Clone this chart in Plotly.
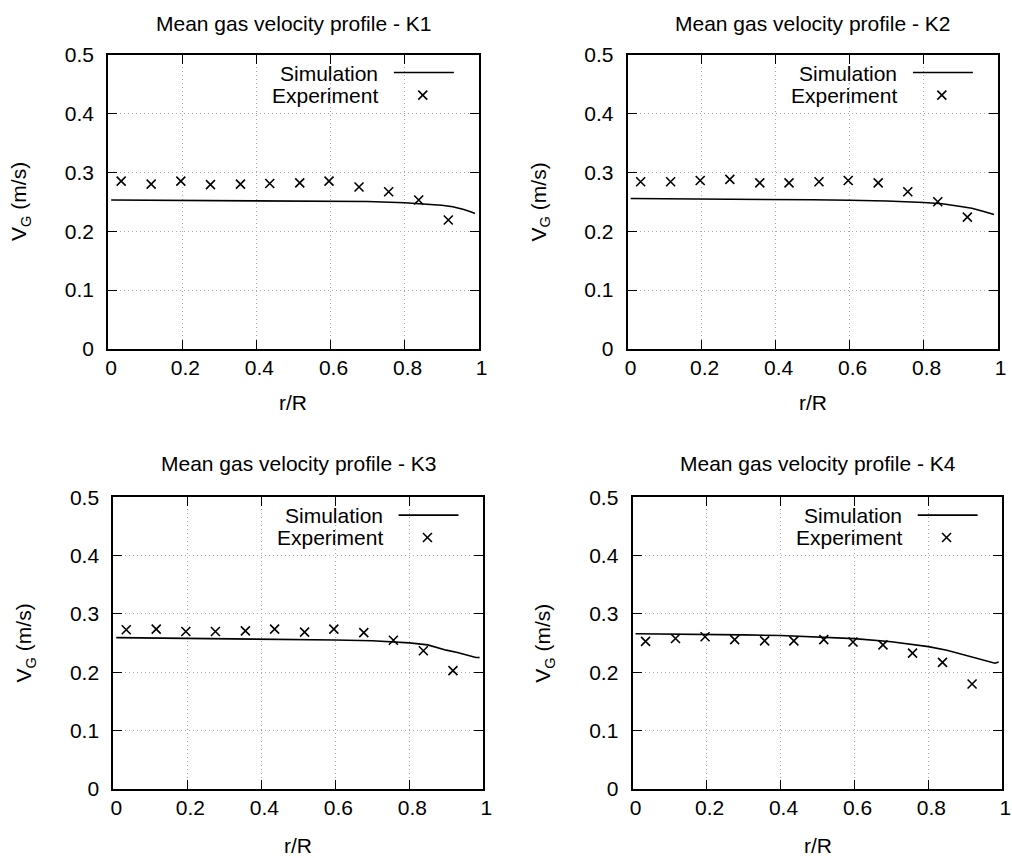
import plotly.graph_objects as go

# ---------------- data ----------------
r_exp = [0.035, 0.116, 0.196, 0.276, 0.357, 0.436, 0.517, 0.596, 0.677, 0.757, 0.838, 0.918]
v_exp_K1 = [0.285, 0.280, 0.285, 0.279, 0.280, 0.281, 0.282, 0.285, 0.275, 0.267, 0.253, 0.219]
v_exp_K2 = [0.284, 0.284, 0.286, 0.288, 0.282, 0.282, 0.284, 0.286, 0.282, 0.267, 0.250, 0.224]
v_exp_K3 = [0.273, 0.274, 0.270, 0.270, 0.271, 0.274, 0.269, 0.274, 0.268, 0.255, 0.237, 0.203]
v_exp_K4 = [0.253, 0.258, 0.261, 0.256, 0.254, 0.254, 0.256, 0.252, 0.247, 0.233, 0.217, 0.180]

r_sim = [0.008, 0.1, 0.2, 0.3, 0.4, 0.5, 0.6, 0.7, 0.8, 0.85, 0.9, 0.93, 0.96, 0.98, 0.99]
v_sim_K1 = [0.2530, 0.2528, 0.2526, 0.2524, 0.2521, 0.2518, 0.2512, 0.2503, 0.2483, 0.2465, 0.2440, 0.2415, 0.2370, 0.2325, 0.2300]
v_sim_K2 = [0.2555, 0.2553, 0.2550, 0.2545, 0.2540, 0.2533, 0.2525, 0.2514, 0.2488, 0.2465, 0.2420, 0.2390, 0.2340, 0.2300, 0.2285]
v_sim_K3 = [0.2595, 0.2590, 0.2585, 0.2580, 0.2573, 0.2565, 0.2555, 0.2540, 0.2505, 0.2470, 0.2380, 0.2340, 0.2290, 0.2255, 0.2255]
v_sim_K4 = [0.2660, 0.2657, 0.2653, 0.2642, 0.2630, 0.2608, 0.2578, 0.2524, 0.2440, 0.2378, 0.2295, 0.2245, 0.2185, 0.2155, 0.2175]

titles = ["Mean gas velocity profile - K1", "Mean gas velocity profile - K2",
          "Mean gas velocity profile - K3", "Mean gas velocity profile - K4"]
x_ticks = [0, 0.2, 0.4, 0.6, 0.8, 1]
x_tick_labels = ["0", "0.2", "0.4", "0.6", "0.8", "1"]
y_ticks = [0, 0.1, 0.2, 0.3, 0.4, 0.5]
y_tick_labels = ["0", "0.1", "0.2", "0.3", "0.4", "0.5"]

sims = [v_sim_K1, v_sim_K2, v_sim_K3, v_sim_K4]
exps = [v_exp_K1, v_exp_K2, v_exp_K3, v_exp_K4]

# ---------------- layout geometry (pixels) ----------------
W, H = 1012, 858
boxes = [  # (left, right, top, bottom) in pixels
    (108.2, 478.7, 54.5, 349.0),
    (627.7, 997.7, 54.5, 349.0),
    (113.3, 483.3, 497.3, 789.0),
    (632.6, 1002.4, 497.3, 789.0),
]
title_y = [23, 23, 463, 463]
xtitle_y = [402, 402, 845, 845]

FONT = "Liberation Sans, Arial, sans-serif"
FS = 21

fig = go.Figure()
annotations = []
shapes = []

for i in range(4):
    ax = "" if i == 0 else str(i + 1)
    xa, ya = "x" + ax, "y" + ax
    l, r, t, b = boxes[i]
    fig.add_trace(go.Scatter(x=r_sim, y=sims[i], mode="lines",
                             line=dict(color="black", width=1.6),
                             xaxis=xa, yaxis=ya, showlegend=False, cliponaxis=False))
    fig.add_trace(go.Scatter(x=r_exp, y=exps[i], mode="markers",
                             marker=dict(symbol="x-thin", size=9, color="black",
                                         line=dict(color="black", width=1.6)),
                             xaxis=xa, yaxis=ya, showlegend=False))
    common = dict(showline=True, linecolor="black", linewidth=2, mirror="allticks",
                  ticks="inside", ticklen=9, tickwidth=1, tickcolor="black",
                  showgrid=True, gridcolor="#a8a8a8", griddash="1px,3px", gridwidth=1,
                  zeroline=False, tickfont=dict(family=FONT, size=FS, color="black"))
    fig.update_layout(**{
        "xaxis" + ax: dict(domain=[l / W, r / W], range=[0, 1], anchor=ya,
                           tickvals=x_ticks, ticktext=x_tick_labels,
                           ticklabelstandoff=-1, ticklabelshift=3, **common),
        "yaxis" + ax: dict(domain=[1 - b / H, 1 - t / H], range=[0, 0.5], anchor=xa,
                           tickvals=y_ticks, ticktext=y_tick_labels,
                           ticklabelstandoff=8, **common),
    })
    cx = (l + r) / 2
    annotations.append(dict(text=titles[i], x=cx / W, y=1 - title_y[i] / H,
                            xref="paper", yref="paper", showarrow=False,
                            xanchor="center", yanchor="middle",
                            font=dict(family=FONT, size=FS, color="black")))
    annotations.append(dict(text="r/R", x=cx / W, y=1 - xtitle_y[i] / H,
                            xref="paper", yref="paper", showarrow=False,
                            xanchor="center", yanchor="middle",
                            font=dict(family=FONT, size=FS, color="black")))
    annotations.append(dict(text="V<sub>G</sub> (m/s)", x=(l - 88) / W, y=1 - (t + b) / 2 / H,
                            xref="paper", yref="paper", showarrow=False, textangle=-90,
                            xanchor="center", yanchor="middle",
                            font=dict(family=FONT, size=FS, color="black")))
    # legend
    xd, yd = xa + " domain", ya + " domain"
    annotations.append(dict(text="Simulation", x=0.733, y=0.937, xref=xd, yref=yd,
                            showarrow=False, xanchor="right", yanchor="middle",
                            font=dict(family=FONT, size=FS, color="black")))
    annotations.append(dict(text="Experiment", x=0.733, y=0.862, xref=xd, yref=yd,
                            showarrow=False, xanchor="right", yanchor="middle",
                            font=dict(family=FONT, size=FS, color="black")))
    shapes.append(dict(type="line", xref=xd, yref=yd, x0=0.771, x1=0.933,
                       y0=0.939, y1=0.939, line=dict(color="black", width=1.6)))
    for (dx0, dy0, dx1, dy1) in [(-4.5, -4.5, 4.5, 4.5), (-4.5, 4.5, 4.5, -4.5)]:
        shapes.append(dict(type="line", xref=xd, yref=yd,
                           xsizemode="pixel", ysizemode="pixel",
                           xanchor=0.849, yanchor=0.862,
                           x0=dx0, x1=dx1, y0=dy0, y1=dy1,
                           line=dict(color="black", width=1.6)))

fig.update_layout(width=W, height=H,
                  margin=dict(l=0, r=0, t=0, b=0, pad=0, autoexpand=False),
                  paper_bgcolor="white", plot_bgcolor="white",
                  annotations=annotations, shapes=shapes, showlegend=False)

fig.write_html("out.html")
